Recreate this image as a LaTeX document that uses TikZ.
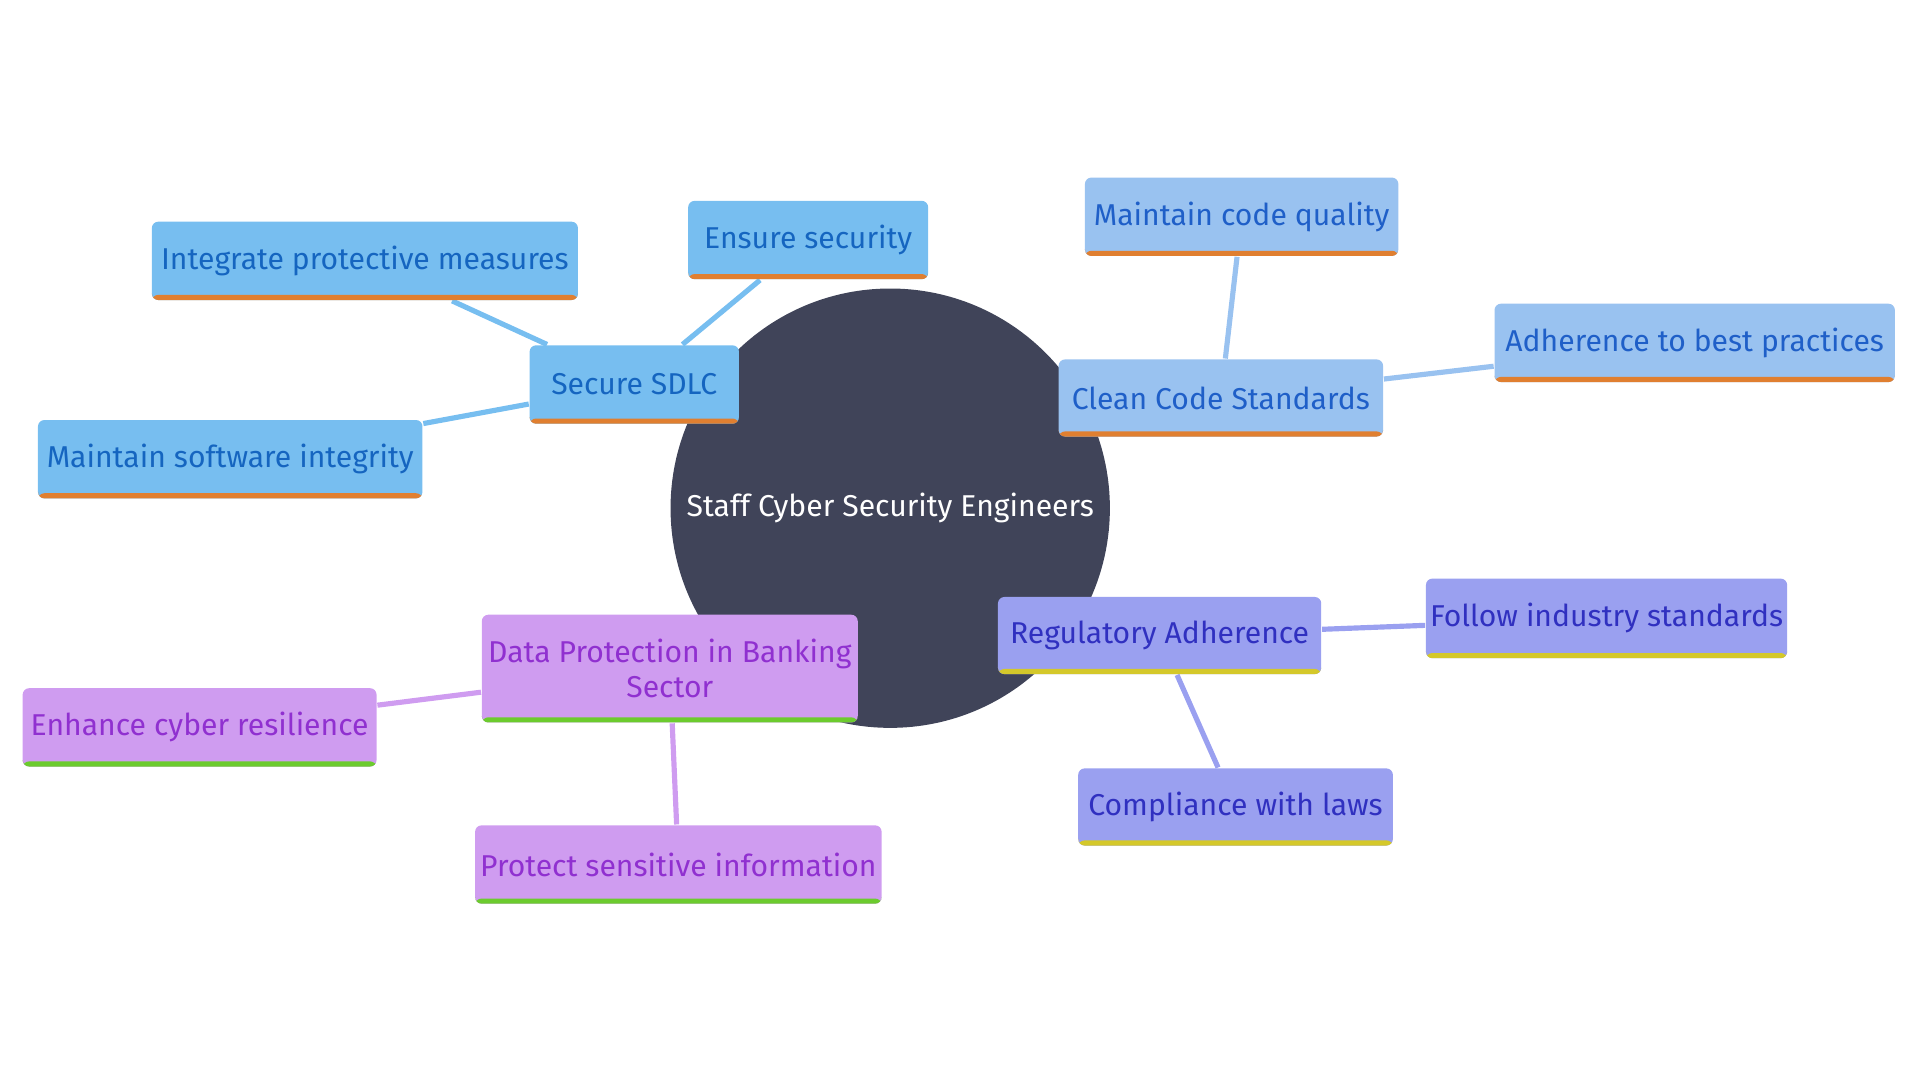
\documentclass[tikz,border=0pt]{standalone}
\usepackage{fontspec}
\setmainfont{Fira Sans}
\usetikzlibrary{backgrounds}
\definecolor{hub}{HTML}{404459}
\definecolor{cA}{HTML}{77BEF0}
\definecolor{tA}{HTML}{1565C0}
\definecolor{cB}{HTML}{99C2F0}
\definecolor{tB}{HTML}{1F5FC8}
\definecolor{cC}{HTML}{9AA0F0}
\definecolor{tC}{HTML}{3030C0}
\definecolor{cD}{HTML}{CF9CF0}
\definecolor{tD}{HTML}{9030D0}
\definecolor{sO}{HTML}{E07F30}
\definecolor{sY}{HTML}{D4C82A}
\definecolor{sG}{HTML}{6CCB2E}
\tikzset{%
  box/.style n args={3}{rectangle,rounded corners=1.5pt,fill=#1,text=#2,
    font=\fontsize{7pt}{8pt}\selectfont,inner sep=0pt,align=center,
    path picture={\fill[#3] (path picture bounding box.south west)
      rectangle ([yshift=1.2pt]path picture bounding box.south east);}},
  link/.style={draw=#1,line width=1.2pt}
}
\begin{document}
\begin{tikzpicture}
  \useasboundingbox (0,0) rectangle (15.68,-8.82);
  \node[circle,fill=hub,minimum size=3.48cm,text=white,
    font=\fontsize{7pt}{8pt}\selectfont] (hub) at (7.27,-4.15) {Staff Cyber Security Engineers};
  % blue branch
  \node[box={cA}{tA}{sO},minimum width=1.71cm,minimum height=0.64cm] (sdlc) at (5.18,-3.14) {Secure SDLC};
  \node[box={cA}{tA}{sO},minimum width=3.48cm,minimum height=0.64cm] (integ) at (2.98,-2.13) {Integrate protective measures};
  \node[box={cA}{tA}{sO},minimum width=1.96cm,minimum height=0.64cm] (ensure) at (6.60,-1.96) {Ensure security};
  \node[box={cA}{tA}{sO},minimum width=3.14cm,minimum height=0.64cm] (softw) at (1.88,-3.75) {Maintain software integrity};
  % light blue branch
  \node[box={cB}{tB}{sO},minimum width=2.65cm,minimum height=0.63cm] (clean) at (9.97,-3.25) {Clean Code Standards};
  \node[box={cB}{tB}{sO},minimum width=2.56cm,minimum height=0.64cm] (quality) at (10.14,-1.77) {Maintain code quality};
  \node[box={cB}{tB}{sO},minimum width=3.27cm,minimum height=0.64cm] (best) at (13.84,-2.80) {Adherence to best practices};
  % violet branch
  \node[box={cC}{tC}{sY},minimum width=2.64cm,minimum height=0.63cm] (regul) at (9.47,-5.19) {Regulatory Adherence};
  \node[box={cC}{tC}{sY},minimum width=2.95cm,minimum height=0.65cm] (indus) at (13.12,-5.05) {Follow industry standards};
  \node[box={cC}{tC}{sY},minimum width=2.57cm,minimum height=0.63cm] (laws) at (10.09,-6.59) {Compliance with laws};
  % purple branch
  \node[box={cD}{tD}{sG},minimum width=3.07cm,minimum height=0.88cm] (data) at (5.47,-5.46) {Data Protection in Banking\\Sector};
  \node[box={cD}{tD}{sG},minimum width=2.89cm,minimum height=0.64cm] (resil) at (1.63,-5.94) {Enhance cyber resilience};
  \node[box={cD}{tD}{sG},minimum width=3.32cm,minimum height=0.64cm] (protect) at (5.54,-7.06) {Protect sensitive information};
  \begin{scope}[on background layer]
    \draw[link=cA] (sdlc) -- (integ);
    \draw[link=cA] (sdlc) -- (ensure);
    \draw[link=cA] (sdlc) -- (softw);
    \draw[link=cB] (clean) -- (quality);
    \draw[link=cB] (clean) -- (best);
    \draw[link=cC] (regul) -- (indus);
    \draw[link=cC] (regul) -- (laws);
    \draw[link=cD] (data) -- (resil);
    \draw[link=cD] (data) -- (protect);
  \end{scope}
\end{tikzpicture}
\end{document}
